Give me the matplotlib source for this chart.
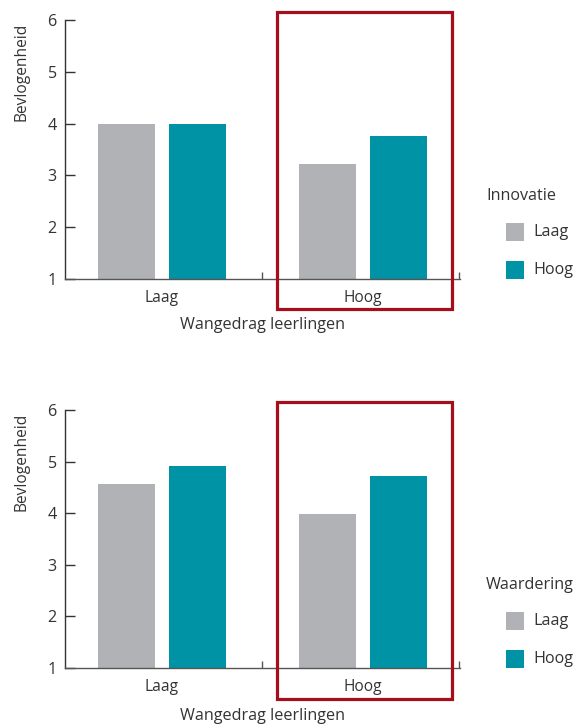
import matplotlib
matplotlib.use("Agg")
import matplotlib.pyplot as plt
from matplotlib.patches import Rectangle

# ---- data ----
categories = ["Laag", "Hoog"]
series_labels = ["Laag", "Hoog"]
innovatie_laag = [4.00, 3.22]
innovatie_hoog = [4.00, 3.76]
waardering_laag = [4.56, 3.98]
waardering_hoog = [4.91, 4.72]
y_ticks = [1, 2, 3, 4, 5, 6]
legend_titles = ["Innovatie", "Waardering"]
x_title = "Wangedrag leerlingen"
y_title = "Bevlogenheid"

GRAY = "#B1B2B5"
TEAL = "#0093A5"
RED = "#A50F1C"
TXT = "#333333"

W, H = 577, 724
plt.rcParams['font.family'] = ['Open Sans', 'DejaVu Sans']
fig = plt.figure(figsize=(W / 100, H / 100), dpi=100)

def fx(px):
    return px / W

def fy(py):
    return 1 - py / H

panels = [
    (innovatie_laag, innovatie_hoog, legend_titles[0], 20, 279, 12, 309, 325, 72, 196, 232, 270),
    (waardering_laag, waardering_hoog, legend_titles[1], 410, 668, 402, 699, 716, 462, 585, 621, 659),
]

FS = 11.6

for (vl, vh, ltitle, ytop, ybot, rtop, rbot, xlab_y, ylab_y, leg_y, l1_y, l2_y) in panels:
    ax = fig.add_axes([fx(65), fy(ybot), fx(460) - fx(65), fy(ytop) - fy(ybot)])
    xs = list(range(len(categories)))
    off = 0.177
    bw = 0.284
    ax.bar([x - off for x in xs], [v - 1 for v in vl], bottom=1, width=bw, color=GRAY)
    ax.bar([x + off for x in xs], [v - 1 for v in vh], bottom=1, width=bw, color=TEAL)
    ax.set_xlim(-0.483, 1.483)
    ax.set_ylim(1, 6)
    ax.set_yticks(y_ticks)
    ax.set_yticklabels([str(t) for t in y_ticks])
    ax.set_xticks(xs)
    ax.set_xticklabels(categories)
    ax.set_xticks([0.5, 1.48], minor=True)
    for s in ["top", "right"]:
        ax.spines[s].set_visible(False)
    ax.spines["left"].set_color("#333333")
    ax.spines["bottom"].set_color("#555555")
    ax.spines["left"].set_linewidth(1.0)
    ax.spines["bottom"].set_linewidth(1.0)
    ax.tick_params(axis='y', direction='in', length=7, width=1.0, color="#333333",
                   labelsize=FS, labelcolor=TXT, pad=6)
    ax.tick_params(axis='x', which='major', length=0, labelsize=FS - 0.4, labelcolor=TXT, pad=8)
    ax.tick_params(axis='x', which='minor', direction='in', length=5, width=1.0, color="#555555")
    ax.patch.set_alpha(0)

    # axis titles
    fig.text(fx(263), fy(xlab_y), x_title, ha='center', va='center', fontsize=FS, color=TXT)
    fig.text(fx(22), fy(ylab_y), y_title, ha='center', va='center', rotation=90,
             fontsize=FS - 0.4, color=TXT)

    # highlight rectangle
    fig.patches.append(Rectangle((fx(277), fy(rbot)), fx(452) - fx(277), fy(rtop) - fy(rbot),
                                 transform=fig.transFigure, fill=False, edgecolor=RED,
                                 linewidth=2.3, zorder=10))

    # legend
    fig.text(fx(486), fy(leg_y), ltitle, ha='left', va='center', fontsize=FS, color=TXT)
    for lab, col, yy in [(series_labels[0], GRAY, l1_y), (series_labels[1], TEAL, l2_y)]:
        fig.patches.append(Rectangle((fx(506), fy(yy + 9)), fx(18), 18 / H,
                                     transform=fig.transFigure, facecolor=col, edgecolor='none'))
        fig.text(fx(533), fy(yy), lab, ha='left', va='center', fontsize=FS, color=TXT)

fig.savefig("out.png", dpi=100)
